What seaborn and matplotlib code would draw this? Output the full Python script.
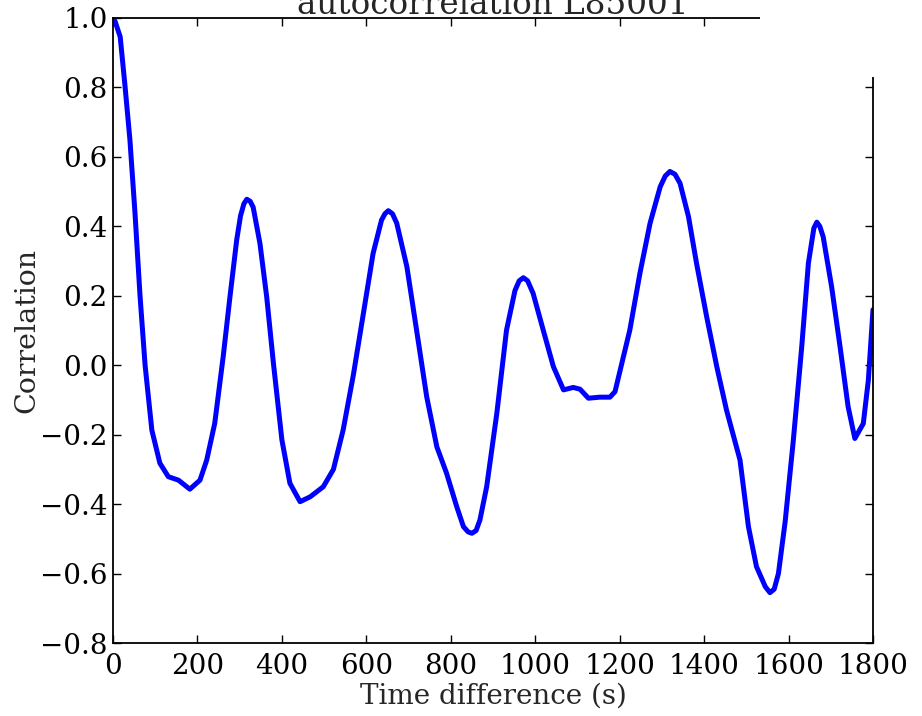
import matplotlib
matplotlib.use("Agg")
import matplotlib.pyplot as plt
from matplotlib.patches import Rectangle
import seaborn as sns
import pandas as pd

# ---- data ----
lag_s = [0, 5, 17, 28, 40, 52, 64, 76, 92, 111, 131, 155, 182, 206, 222, 241,
         261, 277, 293, 302, 310, 317, 325, 332, 348, 364, 380, 400, 419, 443,
         467, 498, 522, 545, 569, 593, 616, 636, 644, 652, 662, 672, 696, 719,
         743, 767, 790, 814, 830, 841, 850, 860, 869, 885, 909, 932, 952, 962,
         972, 982, 995, 1019, 1043, 1067, 1090, 1106, 1126, 1153, 1177, 1189,
         1205, 1224, 1248, 1272, 1296, 1308, 1319, 1331, 1343, 1363, 1382,
         1406, 1430, 1453, 1485, 1505, 1524, 1545, 1556, 1566, 1576, 1592,
         1611, 1631, 1647, 1660, 1667, 1674, 1682, 1702, 1722, 1741, 1757,
         1777, 1789, 1800]
correlation = [1.0, 0.99, 0.946, 0.81, 0.65, 0.44, 0.20, 0.0, -0.187, -0.282,
               -0.321, -0.331, -0.357, -0.331, -0.273, -0.167, 0.025, 0.197,
               0.361, 0.43, 0.465, 0.478, 0.472, 0.455, 0.351, 0.197, 0.005,
               -0.215, -0.340, -0.393, -0.379, -0.350, -0.300, -0.187, -0.03,
               0.149, 0.322, 0.418, 0.436, 0.445, 0.436, 0.409, 0.284, 0.101,
               -0.091, -0.235, -0.311, -0.407, -0.465, -0.480, -0.484, -0.476,
               -0.446, -0.350, -0.139, 0.101, 0.215, 0.243, 0.252, 0.243,
               0.207, 0.101, -0.004, -0.071, -0.064, -0.069, -0.095, -0.092,
               -0.092, -0.076, 0.005, 0.101, 0.265, 0.409, 0.514, 0.545, 0.558,
               0.550, 0.524, 0.428, 0.294, 0.140, -0.004, -0.129, -0.273,
               -0.465, -0.580, -0.638, -0.655, -0.645, -0.60, -0.45, -0.22,
               0.05, 0.294, 0.395, 0.412, 0.40, 0.370, 0.226, 0.053, -0.119,
               -0.211, -0.168, -0.043, 0.16]
x_ticks = [0, 200, 400, 600, 800, 1000, 1200, 1400, 1600, 1800]
y_ticks = [-0.8, -0.6, -0.4, -0.2, 0.0, 0.2, 0.4, 0.6, 0.8, 1.0]
title = "autocorrelation L85001"
x_label = "Time difference (s)"
y_label = "Correlation"

df = pd.DataFrame({"lag": lag_s, "corr": correlation})

sns.set_style("ticks")
plt.rcParams["font.family"] = ["DejaVu Serif"]
plt.rcParams["font.size"] = 20
plt.rcParams["axes.unicode_minus"] = True

W, H = 922, 716
fig = plt.figure(figsize=(W / 100, H / 100), dpi=100)
ax = fig.add_axes([113 / W, 1 - 643 / H, 760 / W, 625 / H])

sns.lineplot(data=df, x="lag", y="corr", ax=ax, color="#0000ff",
             linewidth=3.6)

ax.set_xlim(0, 1800)
ax.set_ylim(-0.8, 1.0)
ax.set_xticks(x_ticks)
ax.set_yticks(y_ticks)
ax.set_xticklabels([str(v) for v in x_ticks])
ax.set_yticklabels([f"{v:.1f}".replace("-", "\u2212") for v in y_ticks])
ax.tick_params(direction="in", length=6, width=1, top=True, right=True,
               labelsize=20, colors="black")
ax.tick_params(axis="y", pad=4)
ax.tick_params(axis="x", pad=7)
for s in ax.spines.values():
    s.set_visible(True)
    s.set_linewidth(1.3)
    s.set_color("black")

ax.set_title(title, fontsize=23.5, pad=3)
ax.set_xlabel(x_label, fontsize=20, labelpad=2)
ax.set_ylabel(y_label, fontsize=20.5, labelpad=0)

# white patch hiding the upper-right corner of the frame, as in the reference
fig.add_artist(Rectangle((760 / W, 1 - 77 / H), 162 / W, 77 / H,
                         transform=fig.transFigure, facecolor="white",
                         edgecolor="none", zorder=10))

fig.savefig("out.png", dpi=100, facecolor="white")
